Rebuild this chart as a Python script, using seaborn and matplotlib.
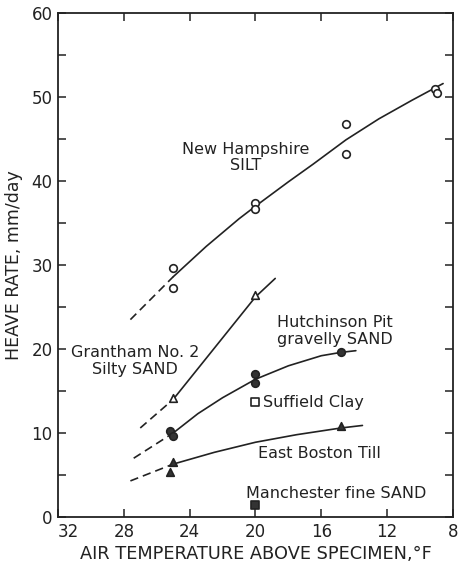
import matplotlib
matplotlib.use("Agg")
import matplotlib.pyplot as plt
import seaborn as sns

# Measured heave rates (mm/day) against air temperature (°F)
nh_temp = [25, 25, 20, 20, 14.5, 14.5, 9.1, 9.0]
nh_rate = [29.7, 27.3, 37.4, 36.7, 46.8, 43.2, 51.0, 50.5]

gr_temp = [25, 20]
gr_rate = [14.2, 26.4]

hp_temp = [25.2, 25.0, 20, 20, 14.8]
hp_rate = [10.2, 9.6, 17.0, 16.0, 19.6]

sc_temp = [20]
sc_rate = [13.7]

eb_temp = [25.0, 25.2, 14.8]
eb_rate = [6.5, 5.3, 10.8]

mf_temp = [20]
mf_rate = [1.4]

# Hand-faired trend curves: solid over the tested range, dashed extrapolation
nh_fit_temp = [25, 23, 21, 20, 18, 16.5, 14.5, 12.5, 10.5, 8.6]
nh_fit_rate = [28.6, 32.2, 35.5, 37.0, 39.9, 42.0, 44.9, 47.4, 49.6, 51.6]
nh_ext_temp = [27.6, 25]
nh_ext_rate = [23.5, 28.6]

gr_fit_temp = [25, 20, 18.8]
gr_fit_rate = [14.0, 26.2, 28.4]
gr_ext_temp = [27.0, 25]
gr_ext_rate = [10.6, 14.0]

hp_fit_temp = [25, 23.5, 22, 20, 18, 16, 14.8, 13.9]
hp_fit_rate = [10.0, 12.3, 14.2, 16.4, 18.0, 19.2, 19.6, 19.8]
hp_ext_temp = [27.4, 25]
hp_ext_rate = [7.0, 10.0]

eb_fit_temp = [25, 22.5, 20, 17.5, 14.8, 13.5]
eb_fit_rate = [6.3, 7.7, 8.9, 9.8, 10.6, 10.9]
eb_ext_temp = [27.6, 25]
eb_ext_rate = [4.3, 6.3]

x_ticks = [32, 28, 24, 20, 16, 12, 8]
y_ticks = [0, 10, 20, 30, 40, 50, 60]

sns.set_style("ticks")
plt.rcParams["font.family"] = ["DejaVu Sans"]

fig = plt.figure(figsize=(4.58, 5.64), dpi=100)
ax = fig.add_axes([0.1266, 0.0833, 0.8624, 0.8937])

ink = "#222222"
lw = 1.2
dash = (0, (5, 3))
curves = [
    (nh_fit_temp, nh_fit_rate, "-"), (nh_ext_temp, nh_ext_rate, dash),
    (gr_fit_temp, gr_fit_rate, "-"), (gr_ext_temp, gr_ext_rate, dash),
    (hp_fit_temp, hp_fit_rate, "-"), (hp_ext_temp, hp_ext_rate, dash),
    (eb_fit_temp, eb_fit_rate, "-"), (eb_ext_temp, eb_ext_rate, dash),
]
for xs, ys, ls in curves:
    sns.lineplot(x=xs, y=ys, ax=ax, color=ink, lw=lw, sort=False,
                 linestyle=ls, estimator=None)

series = [
    (nh_temp, nh_rate, "o", "white"),
    (gr_temp, gr_rate, "^", "white"),
    (hp_temp, hp_rate, "o", "#333333"),
    (sc_temp, sc_rate, "s", "white"),
    (eb_temp, eb_rate, "^", "#333333"),
    (mf_temp, mf_rate, "s", "#333333"),
]
for xs, ys, mk, fc in series:
    sns.scatterplot(x=xs, y=ys, ax=ax, marker=mk, s=30, facecolor=fc,
                    edgecolor=ink, linewidth=1.2, zorder=5)

txt = dict(fontsize=11.5, color=ink, linespacing=1.15)
ax.text(20.6, 42.8, "New Hampshire\nSILT", ha="center", va="center", **txt)
ax.text(27.3, 18.6, "Grantham No. 2\nSilty SAND", ha="center", va="center", **txt)
ax.text(15.2, 22.1, "Hutchinson Pit\ngravelly SAND", ha="center", va="center", **txt)
ax.text(19.55, 13.6, "Suffield Clay", ha="left", va="center", **txt)
ax.text(19.85, 7.6, "East Boston Till", ha="left", va="center", **txt)
ax.text(20.55, 2.8, "Manchester fine SAND", ha="left", va="center", **txt)

ax.set_xlim(32, 8)
ax.set_ylim(0, 60)
ax.set_xticks(x_ticks)
ax.set_yticks(y_ticks)
ax.set_xticklabels([str(t) for t in x_ticks])
ax.set_yticklabels([str(t) for t in y_ticks])
ax.set_yticks([5, 15, 25, 35, 45, 55], minor=True)
ax.tick_params(which="both", direction="in", top=True, right=True,
               length=6, width=1.1, labelsize=12, colors=ink, pad=4)
ax.get_xticklabels()[0].set_ha("left")
for s in ax.spines.values():
    s.set_linewidth(1.3)
    s.set_color(ink)

ax.set_xlabel("AIR TEMPERATURE ABOVE SPECIMEN,°F", fontsize=12.8, labelpad=3,
              color=ink)
ax.set_ylabel("HEAVE RATE, mm/day", fontsize=12.5, labelpad=6, color=ink)

fig.savefig("out.png", dpi=100)
